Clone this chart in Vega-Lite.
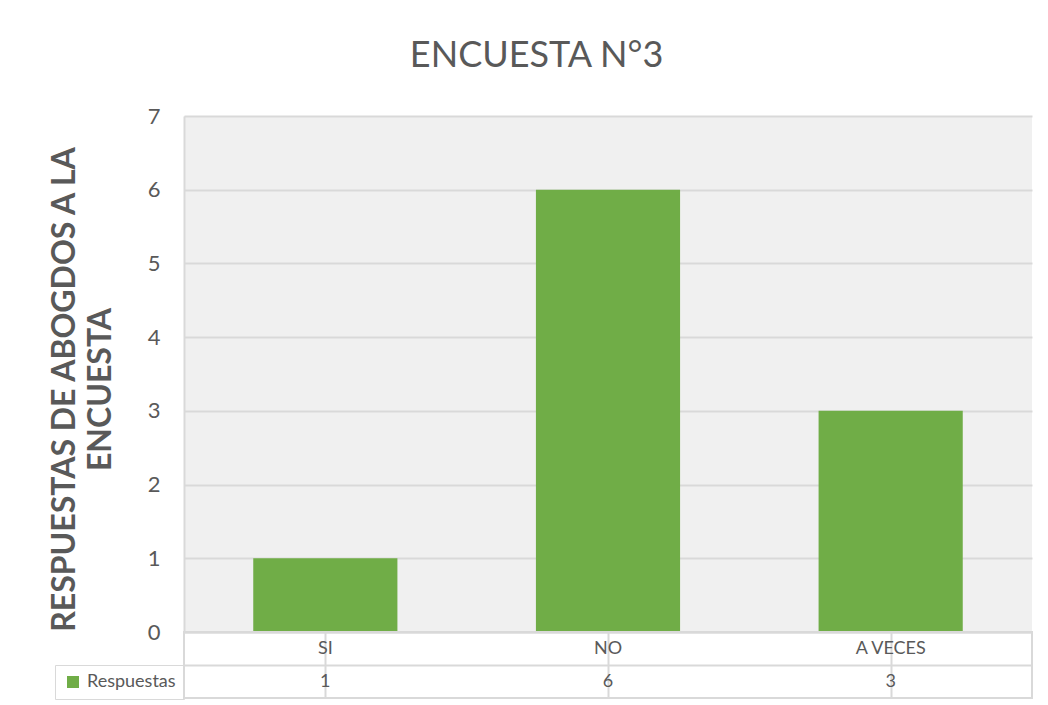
{
  "$schema": "https://vega.github.io/schema/vega-lite/v6.json",
  "background": "white",
  "padding": {"left": 48, "top": 38, "right": 0, "bottom": 0},
  "autosize": {"type": "pad"},
  "bounds": "flush",
  "title": {
    "text": "ENCUESTA N°3",
    "font": "Lato",
    "fontSize": 36,
    "fontWeight": "normal",
    "color": "#595959",
    "anchor": "middle",
    "dx": -4,
    "offset": 30
  },
  "data": {
    "values": [
      {"Categoria": "SI", "Respuestas": 1, "Serie": "Respuestas"},
      {"Categoria": "NO", "Respuestas": 6, "Serie": "Respuestas"},
      {"Categoria": "A VECES", "Respuestas": 3, "Serie": "Respuestas"}
    ]
  },
  "spacing": 0,
  "config": {
    "font": "Lato",
    "view": {"stroke": null},
    "axis": {"labelFont": "Lato", "titleFont": "Lato"}
  },
  "vconcat": [
    {
      "width": 848,
      "height": 516,
      "view": {"fill": "#f0f0f0", "stroke": null},
      "mark": {"type": "bar", "color": "#70AD47"},
      "encoding": {
        "x": {
          "field": "Categoria",
          "type": "nominal",
          "sort": ["SI", "NO", "A VECES"],
          "scale": {"paddingInner": 0.49, "paddingOuter": 0.245},
          "axis": null
        },
        "y": {
          "field": "Respuestas",
          "type": "quantitative",
          "scale": {"domain": [0, 7]},
          "axis": {
            "title": ["RESPUESTAS DE ABOGDOS A LA", "ENCUESTA"],
            "titleFontSize": 32,
            "titleFontWeight": "bold",
            "titleColor": "#595959",
            "titleLineHeight": 36,
            "titlePadding": 30,
            "titleY": 273,
            "values": [0, 1, 2, 3, 4, 5, 6, 7],
            "labelFontSize": 22,
            "labelColor": "#595959",
            "labelPadding": 24,
            "ticks": false,
            "domain": true,
            "domainColor": "#d9d9d9",
            "domainWidth": 2,
            "grid": true,
            "gridColor": "#d9d9d9",
            "gridWidth": 2
          }
        },
        "color": {
          "field": "Serie",
          "type": "nominal",
          "scale": {"range": ["#70AD47"]},
          "legend": {
            "title": null,
            "orient": "none",
            "legendX": -129,
            "legendY": 549,
            "symbolType": "square",
            "symbolSize": 144,
            "symbolStrokeWidth": 0,
            "labelFontSize": 18,
            "labelColor": "#595959",
            "labelFont": "Lato",
            "labelOffset": 5,
            "strokeColor": "#d9d9d9",
            "padding": 8,
            "symbolOffset": 1
          }
        }
      }
    },
    {
      "width": 848,
      "height": 66,
      "view": {"stroke": "#d9d9d9", "strokeWidth": 2},
      "layer": [
        {
          "mark": {"type": "text", "fontSize": 18, "color": "#595959", "font": "Lato"},
          "encoding": {
            "x": {
              "field": "Categoria",
              "type": "nominal",
              "sort": ["SI", "NO", "A VECES"],
              "scale": {"paddingInner": 0, "paddingOuter": 0},
              "axis": {
                "title": null,
                "labels": false,
                "ticks": false,
                "domain": false,
                "grid": true,
                "bandPosition": 0,
                "gridColor": "#d9d9d9",
                "gridWidth": 2
              }
            },
            "y": {
              "datum": "cat",
              "type": "nominal",
              "scale": {"domain": ["cat", "val"], "type": "band", "paddingInner": 0, "paddingOuter": 0},
              "axis": {
                "title": null,
                "labels": false,
                "ticks": false,
                "domain": false,
                "grid": true,
                "bandPosition": 0,
                "gridColor": "#d9d9d9",
                "gridWidth": 2
              }
            },
            "text": {"field": "Categoria"}
          }
        },
        {
          "mark": {"type": "text", "fontSize": 18, "color": "#595959", "font": "Lato"},
          "encoding": {
            "x": {"field": "Categoria", "type": "nominal", "sort": ["SI", "NO", "A VECES"]},
            "y": {"datum": "val", "type": "nominal"},
            "text": {"field": "Respuestas"}
          }
        }
      ]
    }
  ]
}
